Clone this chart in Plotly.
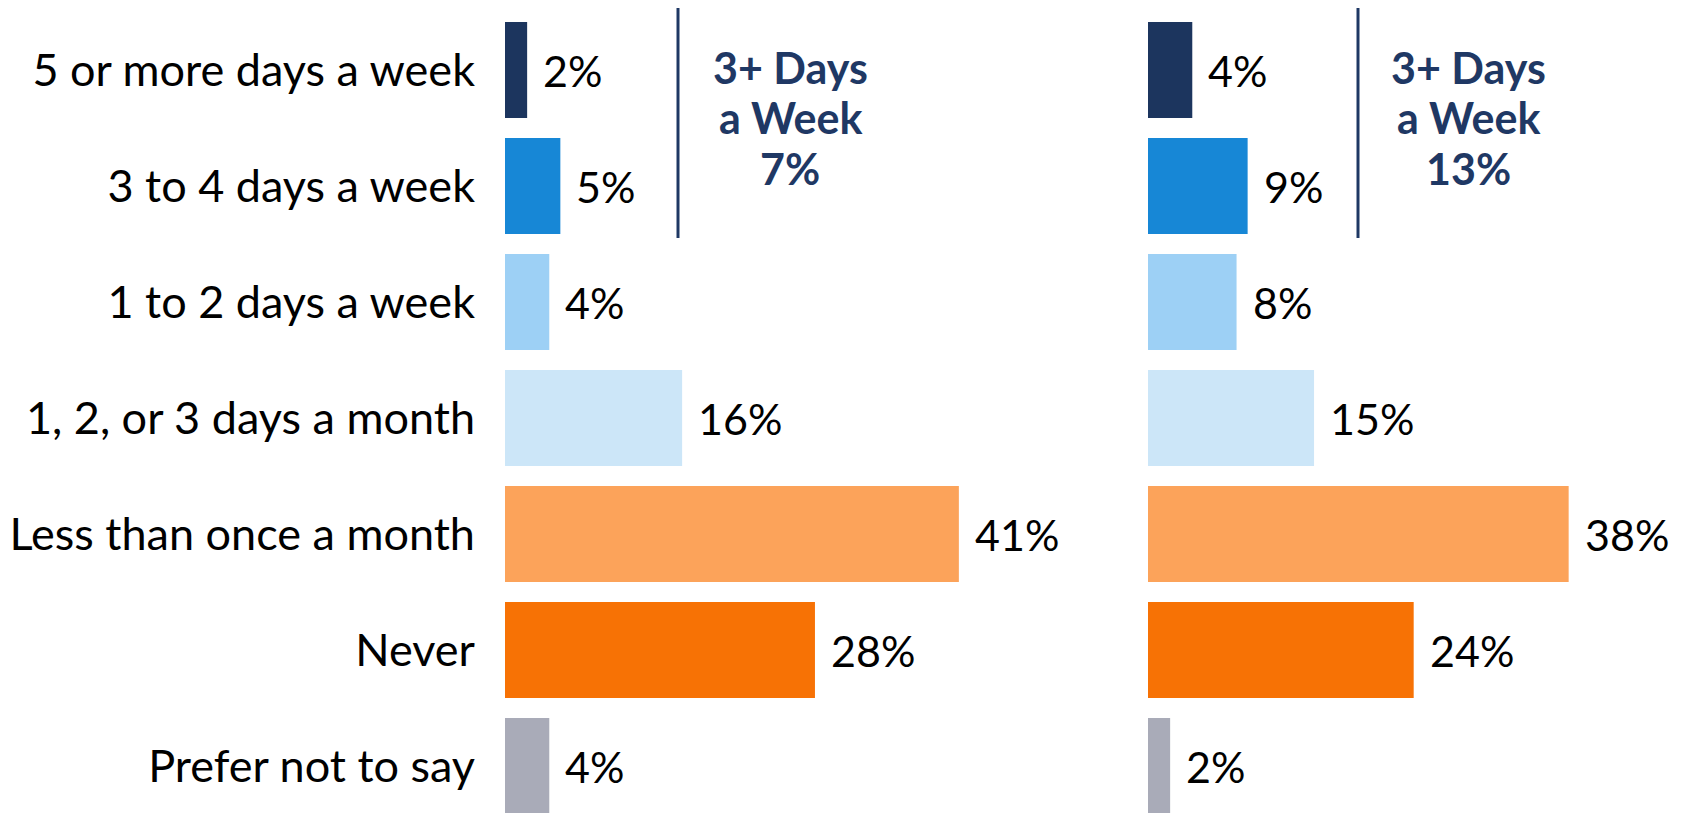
import plotly.graph_objects as go

categories = ["5 or more days a week", "3 to 4 days a week", "1 to 2 days a week",
              "1, 2, or 3 days a month", "Less than once a month", "Never", "Prefer not to say"]
left_values = [2, 5, 4, 16, 41, 28, 4]
right_values = [4, 9, 8, 15, 38, 24, 2]
bar_colors = ["#1C355E", "#1787D6", "#9DD0F5", "#CCE6F8", "#FCA35A", "#F77205", "#A9ABB8"]
summary_lines = [["3+ Days", "a Week", "7%"], ["3+ Days", "a Week", "13%"]]

W, H = 1687, 813
OFF = 8  # page body margin
FONT = "Lato"
NAVY = "#1F3864"

fig = go.Figure()
fig.add_trace(go.Bar(x=left_values, y=categories, orientation="h",
                     marker=dict(color=bar_colors, line=dict(width=0)),
                     xaxis="x", yaxis="y", hoverinfo="skip"))
fig.add_trace(go.Bar(x=right_values, y=categories, orientation="h",
                     marker=dict(color=bar_colors, line=dict(width=0)),
                     xaxis="x2", yaxis="y", hoverinfo="skip"))

annotations = []
for xa, vals in (("x", left_values), ("x2", right_values)):
    for c, v in zip(categories, vals):
        annotations.append(dict(x=v, y=c, xref=xa, yref="y", text=f"{v}%",
                                showarrow=False, xanchor="left", yanchor="middle",
                                xshift=14, font=dict(family=FONT, size=43, color="#000000")))

summary_x = [790 - OFF, 1468 - OFF]
line_y = [67.5 - OFF, 118 - OFF, 169 - OFF]
for sx, lines in zip(summary_x, summary_lines):
    for ly, t in zip(line_y, lines):
        annotations.append(dict(x=sx / W, y=1 - ly / H, xref="paper", yref="paper", text=f"<b>{t}</b>",
                                showarrow=False, xanchor="center", yanchor="middle", align="center",
                                font=dict(family=FONT, size=43, color=NAVY)))

shapes = []
for lx in (678 - OFF, 1358 - OFF):
    shapes.append(dict(type="line", xref="paper", yref="paper", x0=lx / W, x1=lx / W,
                       y0=1 - (7 - OFF) / H, y1=1 - (238 - OFF) / H, line=dict(color=NAVY, width=3)))

x0L, x0R, ppp = 505 - OFF, 1148 - OFF, 11.07
top_c = 70 - OFF
fig.update_layout(
    width=W, height=H, margin=dict(l=0, r=0, t=0, b=0),
    paper_bgcolor="white", plot_bgcolor="white", showlegend=False,
    bargap=0.172,
    xaxis=dict(domain=[x0L / W, (x0L + 45 * ppp) / W], range=[0, 45], visible=False, fixedrange=True),
    xaxis2=dict(domain=[x0R / W, (x0R + 45 * ppp) / W], range=[0, 45], visible=False, anchor="y", fixedrange=True),
    yaxis=dict(categoryorder="array", categoryarray=categories,
               range=[(H - top_c) / 116, -top_c / 116],
               showgrid=False, zeroline=False, showline=False, ticks="",
               ticklabelstandoff=29, tickfont=dict(family=FONT, size=45, color="#000000"),
               anchor="x", fixedrange=True),
    annotations=annotations, shapes=shapes,
)

fig.write_html("out.html")
